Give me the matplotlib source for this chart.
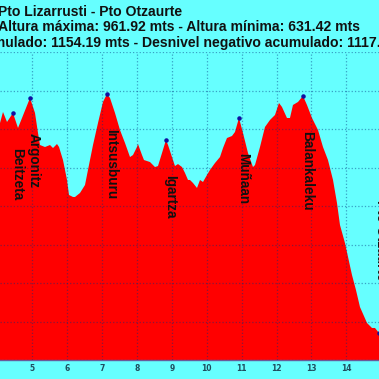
import matplotlib
matplotlib.use("Agg")
import matplotlib.pyplot as plt

# Perfil de altura (km, metros)
km = [3.932, 4.075, 4.161, 4.276, 4.447, 4.591, 4.935, 5.078, 5.164, 5.221,
      5.364, 5.508, 5.594, 5.708, 5.766, 5.880, 5.995, 6.052, 6.167, 6.224,
      6.367, 6.511, 6.596, 6.740, 6.883, 7.026, 7.141, 7.227, 7.370, 7.513,
      7.657, 7.800, 7.886, 8.000, 8.029, 8.144, 8.201, 8.373, 8.516, 8.602,
      8.717, 8.831, 8.889, 9.003, 9.089, 9.175, 9.290, 9.376, 9.462, 9.519,
      9.605, 9.720, 9.806, 9.892, 10.006, 10.092, 10.235, 10.379, 10.465, 10.579,
      10.722, 10.808, 10.923, 11.038, 11.181, 11.324, 11.382, 11.525, 11.668, 11.811,
      11.955, 12.069, 12.155, 12.298, 12.384, 12.470, 12.614, 12.757, 12.871, 13.015,
      13.187, 13.330, 13.473, 13.617, 13.731, 13.817, 13.960, 14.161, 14.275, 14.390,
      14.591, 14.734, 14.820, 14.935, 15.049]
altura = [901.3, 907.8, 922.1, 909.1, 920.8, 901.3, 940.3, 920.8, 894.8, 879.2,
          876.6, 879.2, 875.3, 880.5, 876.6, 859.7, 833.8, 814.3, 811.7, 811.7,
          816.9, 827.3, 846.8, 879.2, 907.8, 935.1, 945.5, 940.3, 920.8, 898.7,
          881.8, 863.6, 866.2, 876.6, 880.5, 866.2, 859.7, 857.1, 850.6, 851.9,
          868.8, 885.7, 879.2, 863.6, 851.9, 854.5, 850.6, 842.9, 833.8, 833.8,
          829.9, 823.4, 833.8, 831.2, 840.3, 846.8, 855.8, 863.6, 875.3, 888.3,
          890.9, 896.1, 914.3, 894.8, 868.8, 850.6, 853.2, 876.6, 902.6, 911.7,
          918.2, 933.8, 928.6, 914.3, 914.3, 931.2, 935.1, 942.9, 931.2, 914.3,
          898.7, 876.6, 859.7, 833.8, 803.9, 775.3, 751.9, 710.4, 690.9, 668.8,
          648.1, 641.6, 641.6, 635.1, 631.4]

# Cimas marcadas
cimas = ["Beitzeta", "Argonitz", "Intsusburu", "Igartza", "Muñaan", "Balankaleku"]
cimas_km = [4.447, 4.935, 7.141, 8.831, 10.923, 12.757]
cimas_alt = [920.8, 940.3, 945.5, 885.7, 914.3, 942.9]

titulo = "Pto Lizarrusti - Pto Otzaurte"
linea2 = "Altura máxima: 961.92 mts - Altura mínima: 631.42 mts"
linea3 = "Desnivel positivo acumulado: 1154.19 mts - Desnivel negativo acumulado: 1117."

fondo = "#66ffff"
fig = plt.figure(figsize=(3.79, 3.79), dpi=100, facecolor=fondo)
ax = fig.add_axes([0, 0.0501, 1, 0.8127], facecolor=fondo)

ax.fill_between(km, altura, 600, color="#ff0000", lw=0, zorder=1)
ax.scatter(cimas_km + [km[-2]], cimas_alt + [altura[-2]], s=5, color="#1010a0", zorder=4)

for nombre, x, y in zip(cimas, cimas_km, cimas_alt):
    ax.annotate(nombre, (x, y), xytext=(4, -35), textcoords="offset pixels",
                rotation=-90, ha="center", va="top", fontsize=9.8,
                fontweight="bold", family="Liberation Sans", color="#111111", zorder=5)
ax.text(15.0, 808, "Pto Otzaurte", rotation=-90, ha="center", va="top", fontsize=9.8,
        fontweight="bold", family="Liberation Sans", color="#111111", zorder=5)

ax.set_xlim(4.075, 14.935)
ax.set_ylim(600, 1000)
ax.set_xticks(range(5, 15))
ax.set_yticks(range(600, 1001, 50))
ax.set_yticklabels([])
ax.grid(True, color="#00307f", alpha=0.45, linestyle=":", linewidth=0.9, zorder=3)
ax.set_axisbelow(False)
ax.tick_params(axis="x", length=0, pad=3, labelsize=5.5, labelcolor="#1f4f5f")
ax.tick_params(axis="y", length=0)
for lbl in ax.get_xticklabels():
    lbl.set_fontweight("bold")
for lado in ["top", "left", "right"]:
    ax.spines[lado].set_visible(False)
ax.spines["bottom"].set_color("#6a5a9a")
ax.spines["bottom"].set_linewidth(1.0)

fig.text(-0.006, 1 - 12 / 379, titulo, ha="left", va="center", fontsize=10.1,
         fontweight="bold", family="Liberation Sans", color="#111111")
fig.text(-0.004, 1 - 27 / 379, linea2, ha="left", va="center", fontsize=10.1,
         fontweight="bold", family="Liberation Sans", color="#111111")
fig.text(1.004, 1 - 43 / 379, linea3, ha="right", va="center", fontsize=10.1,
         fontweight="bold", family="Liberation Sans", color="#111111")

fig.savefig("out.png", dpi=100, facecolor=fondo)
